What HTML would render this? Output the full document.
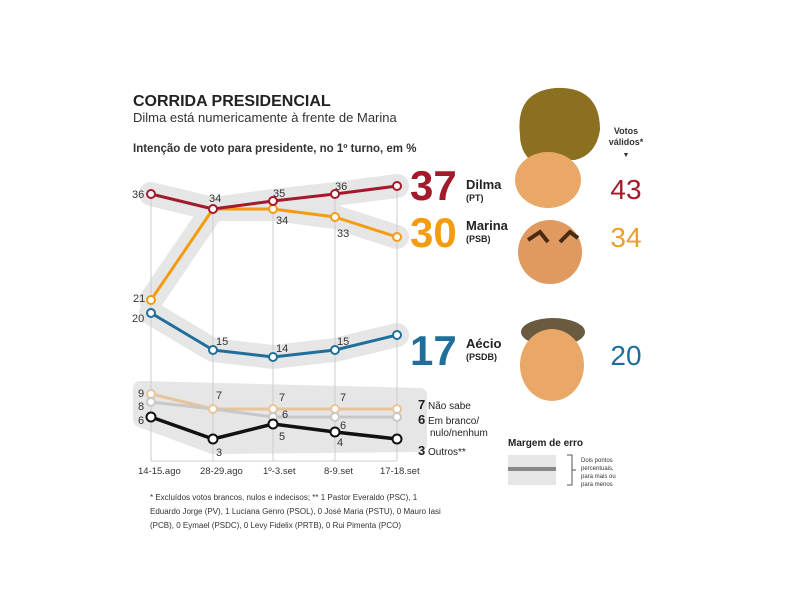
<!DOCTYPE html>
<html><head><meta charset="utf-8"><style>
body{margin:0;background:#fff}
svg{display:block;font-family:"Liberation Sans",sans-serif}
</style></head><body>
<svg width="800" height="600" viewBox="0 0 800 600">
<text x="133" y="106" font-size="16" font-weight="bold" fill="#222">CORRIDA PRESIDENCIAL</text>
<text x="133" y="122" font-size="13" fill="#333">Dilma está numericamente à frente de Marina</text>
<text x="133" y="152" font-size="11.5" font-weight="bold" fill="#333">Intenção de voto para presidente, no 1º turno, em %</text>
<g fill="none" stroke="#e6e6e6" stroke-width="24" stroke-linejoin="round" stroke-linecap="round">
<polyline points="151,194 213,209 273,201 335,194 397,186"/>
<polyline points="151,300 213,209 273,209 335,217 397,237"/>
<polyline points="151,313 213,350 273,357 335,350 397,335"/>
</g>
<path d="M140,388 L420,395 L420,445 L213,447 L140,420 Z" fill="#e6e6e6" stroke="#e6e6e6" stroke-width="14" stroke-linejoin="round"/>
<g stroke="#ccc" stroke-width="1">
<line x1="151" y1="196" x2="151" y2="461"/><line x1="213" y1="212" x2="213" y2="461"/>
<line x1="273" y1="204" x2="273" y2="461"/><line x1="335" y1="196" x2="335" y2="461"/>
<line x1="397" y1="189" x2="397" y2="461"/><line x1="151" y1="461" x2="397" y2="461"/>
</g>
<g fill="none" stroke-width="3" stroke-linejoin="round">
<polyline points="151,300 213,209 273,209 335,217 397,237" stroke="#f39c12"/>
<polyline points="151,194 213,209 273,201 335,194 397,186" stroke="#a31a2a"/>
<polyline points="151,313 213,350 273,357 335,350 397,335" stroke="#1f6f9a"/>
<polyline points="151,394 213,409 273,409 335,409 397,409" stroke="#e8c49a"/>
<polyline points="151,402 213,409 273,417 335,417 397,417" stroke="#c8c8c8"/>
<polyline points="151,417 213,439 273,424 335,432 397,439" stroke="#111" stroke-width="3.5"/>
</g>
<g stroke-width="2" fill="#fff">
<g stroke="#f39c12"><circle cx="151" cy="300" r="4"/><circle cx="273" cy="209" r="4"/><circle cx="335" cy="217" r="4"/><circle cx="397" cy="237" r="4"/></g>
<g stroke="#a31a2a"><circle cx="151" cy="194" r="4"/><circle cx="213" cy="209" r="4"/><circle cx="273" cy="201" r="4"/><circle cx="335" cy="194" r="4"/><circle cx="397" cy="186" r="4"/></g>
<g stroke="#1f6f9a"><circle cx="151" cy="313" r="4"/><circle cx="213" cy="350" r="4"/><circle cx="273" cy="357" r="4"/><circle cx="335" cy="350" r="4"/><circle cx="397" cy="335" r="4"/></g>
<g stroke="#e8c49a"><circle cx="151" cy="394" r="4"/><circle cx="213" cy="409" r="4"/><circle cx="273" cy="409" r="4"/><circle cx="335" cy="409" r="4"/><circle cx="397" cy="409" r="4"/></g>
<g stroke="#c8c8c8"><circle cx="151" cy="402" r="4"/><circle cx="273" cy="417" r="4"/><circle cx="335" cy="417" r="4"/><circle cx="397" cy="417" r="4"/></g>
<g stroke="#111"><circle cx="151" cy="417" r="4.5"/><circle cx="213" cy="439" r="4.5"/><circle cx="273" cy="424" r="4.5"/><circle cx="335" cy="432" r="4.5"/><circle cx="397" cy="439" r="4.5"/></g>
</g>
<g font-size="11" fill="#333">
<text x="132" y="198">36</text><text x="209" y="202">34</text><text x="273" y="197">35</text><text x="335" y="190">36</text>
<text x="276" y="224">34</text><text x="337" y="237">33</text>
<text x="133" y="302">21</text><text x="132" y="322">20</text>
<text x="216" y="345">15</text><text x="276" y="352">14</text><text x="337" y="345">15</text>
<text x="138" y="397">9</text><text x="138" y="410">8</text><text x="138" y="424">6</text>
<text x="216" y="399">7</text><text x="279" y="401">7</text><text x="340" y="401">7</text>
<text x="282" y="418">6</text><text x="340" y="429">6</text>
<text x="216" y="456">3</text><text x="279" y="440">5</text><text x="337" y="446">4</text>
</g>
<g font-size="9.5" fill="#333">
<text x="138" y="474">14-15.ago</text><text x="200" y="474">28-29.ago</text><text x="263" y="474">1º-3.set</text><text x="324" y="474">8-9.set</text><text x="380" y="474">17-18.set</text>
</g>
<g font-weight="bold">
<text x="410" y="200" font-size="42" fill="#a31a2a">37</text>
<text x="466" y="189" font-size="13" fill="#222">Dilma</text><text x="466" y="201" font-size="9" fill="#222">(PT)</text>
<text x="410" y="247" font-size="42" fill="#f39c12">30</text>
<text x="466" y="230" font-size="13" fill="#222">Marina</text><text x="466" y="242" font-size="9" fill="#222">(PSB)</text>
<text x="410" y="365" font-size="42" fill="#1f6f9a">17</text>
<text x="466" y="348" font-size="13" fill="#222">Aécio</text><text x="466" y="360" font-size="9" fill="#222">(PSDB)</text>
</g>
<g font-size="10" fill="#222">
<text x="418" y="409"><tspan font-weight="bold" font-size="13">7</tspan> Não sabe</text>
<text x="418" y="424"><tspan font-weight="bold" font-size="13">6</tspan> Em branco/</text>
<text x="430" y="436">nulo/nenhum</text>
<text x="418" y="455"><tspan font-weight="bold" font-size="13">3</tspan> Outros**</text>
</g>
<g font-size="8" fill="#333">
<text x="150" y="500">* Excluídos votos brancos, nulos e indecisos;   ** 1 Pastor Everaldo (PSC), 1</text>
<text x="150" y="514">Eduardo Jorge (PV), 1 Luciana Genro (PSOL), 0 José Maria (PSTU), 0 Mauro Iasi</text>
<text x="150" y="528">(PCB), 0 Eymael (PSDC), 0 Levy Fidelix (PRTB), 0 Rui Pimenta (PCO)</text>
</g>
<path d="M520,135 Q515,92 555,88 Q600,86 600,130 Q596,155 575,160 L530,160 Q520,150 520,135 Z" fill="#8a7020"/>
<ellipse cx="548" cy="180" rx="33" ry="28" fill="#e9a868"/>
<ellipse cx="550" cy="252" rx="32" ry="32" fill="#e09a60"/>
<path d="M528,240 l12,-8 l8,10 M560,242 l10,-10 l8,6" stroke="#4a2a10" stroke-width="4" fill="none"/>
<ellipse cx="553" cy="332" rx="32" ry="14" fill="#6a5a40"/>
<ellipse cx="552" cy="365" rx="32" ry="36" fill="#e9a868"/>
<g font-size="9" font-weight="bold" fill="#333" text-anchor="middle">
<text x="626" y="134">Votos</text>
<text x="626" y="145">válidos*</text>
<text x="626" y="157" font-size="7">▼</text>
</g>
<g font-size="28" text-anchor="middle">
<text x="626" y="199" fill="#a31a2a">43</text><text x="626" y="247" fill="#e8a030">34</text><text x="626" y="365" fill="#1f6f9a">20</text>
</g>
<text x="508" y="446" font-size="10" font-weight="bold" fill="#222">Margem de erro</text>
<rect x="508" y="455" width="48" height="30" fill="#e6e6e6"/>
<rect x="508" y="467" width="48" height="4" fill="#888"/>
<path d="M567,455 h5 v30 h-5 M572,470 h4" stroke="#555" fill="none"/>
<g font-size="6" fill="#333"><text x="581" y="462">Dois pontos</text><text x="581" y="470">percentuais,</text><text x="581" y="478">para mais ou</text><text x="581" y="486">para menos</text></g>
</svg>
</body></html>
